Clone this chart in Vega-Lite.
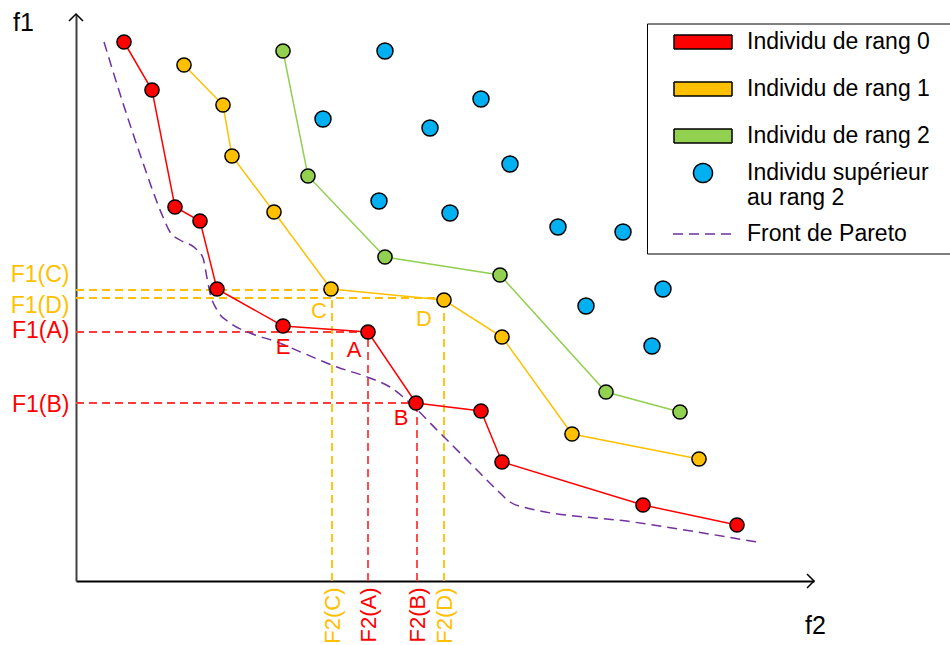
{
  "$schema": "https://vega.github.io/schema/vega-lite/v6.json",
  "width": 738,
  "height": 567,
  "autosize": {"type": "none"},
  "padding": {"left": 76, "top": 14, "right": 136, "bottom": 64},
  "background": "white",
  "config": {
    "font": "Liberation Sans",
    "view": {"stroke": null},
    "legend": {
      "orient": "none", "legendX": 571, "legendY": 9.5,
      "padding": 7, "strokeColor": "#000000", "rowPadding": 12,
      "symbolOffset": 37.5, "labelOffset": 32.5,
      "labelFontSize": 23, "labelColor": "#000000", "labelLimit": 400,
      "symbolSize": 400, "symbolStrokeWidth": 1.5
    }
  },
  "datasets": {
    "individus": [
      {"rang": "Individu de rang 0", "f2": 48, "f1": 539, "nom": ""},
      {"rang": "Individu de rang 0", "f2": 76, "f1": 491, "nom": ""},
      {"rang": "Individu de rang 0", "f2": 99, "f1": 374, "nom": ""},
      {"rang": "Individu de rang 0", "f2": 124, "f1": 360, "nom": ""},
      {"rang": "Individu de rang 0", "f2": 141, "f1": 292, "nom": ""},
      {"rang": "Individu de rang 0", "f2": 207, "f1": 255, "nom": "E"},
      {"rang": "Individu de rang 0", "f2": 292, "f1": 249, "nom": "A"},
      {"rang": "Individu de rang 0", "f2": 340, "f1": 178, "nom": "B"},
      {"rang": "Individu de rang 0", "f2": 405, "f1": 170, "nom": ""},
      {"rang": "Individu de rang 0", "f2": 426, "f1": 119, "nom": ""},
      {"rang": "Individu de rang 0", "f2": 567, "f1": 76, "nom": ""},
      {"rang": "Individu de rang 0", "f2": 661, "f1": 56, "nom": ""},
      {"rang": "Individu de rang 1", "f2": 108, "f1": 516, "nom": ""},
      {"rang": "Individu de rang 1", "f2": 147, "f1": 476, "nom": ""},
      {"rang": "Individu de rang 1", "f2": 156, "f1": 425, "nom": ""},
      {"rang": "Individu de rang 1", "f2": 198, "f1": 369, "nom": ""},
      {"rang": "Individu de rang 1", "f2": 255, "f1": 292, "nom": "C"},
      {"rang": "Individu de rang 1", "f2": 368, "f1": 281, "nom": "D"},
      {"rang": "Individu de rang 1", "f2": 426, "f1": 244, "nom": ""},
      {"rang": "Individu de rang 1", "f2": 496, "f1": 147, "nom": ""},
      {"rang": "Individu de rang 1", "f2": 623, "f1": 122, "nom": ""},
      {"rang": "Individu de rang 2", "f2": 207, "f1": 530, "nom": ""},
      {"rang": "Individu de rang 2", "f2": 232, "f1": 405, "nom": ""},
      {"rang": "Individu de rang 2", "f2": 309, "f1": 324, "nom": ""},
      {"rang": "Individu de rang 2", "f2": 424, "f1": 306, "nom": ""},
      {"rang": "Individu de rang 2", "f2": 530, "f1": 189, "nom": ""},
      {"rang": "Individu de rang 2", "f2": 604, "f1": 169, "nom": ""},
      {"rang": "Individu supérieur au rang 2", "f2": 309, "f1": 530, "nom": ""},
      {"rang": "Individu supérieur au rang 2", "f2": 247, "f1": 462, "nom": ""},
      {"rang": "Individu supérieur au rang 2", "f2": 405, "f1": 482, "nom": ""},
      {"rang": "Individu supérieur au rang 2", "f2": 354, "f1": 453, "nom": ""},
      {"rang": "Individu supérieur au rang 2", "f2": 434, "f1": 417, "nom": ""},
      {"rang": "Individu supérieur au rang 2", "f2": 303, "f1": 380, "nom": ""},
      {"rang": "Individu supérieur au rang 2", "f2": 374, "f1": 368, "nom": ""},
      {"rang": "Individu supérieur au rang 2", "f2": 482, "f1": 354, "nom": ""},
      {"rang": "Individu supérieur au rang 2", "f2": 547, "f1": 349, "nom": ""},
      {"rang": "Individu supérieur au rang 2", "f2": 587, "f1": 292, "nom": ""},
      {"rang": "Individu supérieur au rang 2", "f2": 510, "f1": 275, "nom": ""},
      {"rang": "Individu supérieur au rang 2", "f2": 576, "f1": 235, "nom": ""}
    ],
    "pareto": [
      {"rang": "Front de Pareto", "f2": 28, "f1": 539}, {"rang": "Front de Pareto", "f2": 46, "f1": 481},
      {"rang": "Front de Pareto", "f2": 66, "f1": 421}, {"rang": "Front de Pareto", "f2": 87, "f1": 364},
      {"rang": "Front de Pareto", "f2": 94, "f1": 349}, {"rang": "Front de Pareto", "f2": 104, "f1": 341},
      {"rang": "Front de Pareto", "f2": 119, "f1": 333}, {"rang": "Front de Pareto", "f2": 127, "f1": 323},
      {"rang": "Front de Pareto", "f2": 131, "f1": 303}, {"rang": "Front de Pareto", "f2": 134, "f1": 288},
      {"rang": "Front de Pareto", "f2": 141, "f1": 271}, {"rang": "Front de Pareto", "f2": 154, "f1": 258},
      {"rang": "Front de Pareto", "f2": 174, "f1": 248}, {"rang": "Front de Pareto", "f2": 201, "f1": 239},
      {"rang": "Front de Pareto", "f2": 227, "f1": 228}, {"rang": "Front de Pareto", "f2": 261, "f1": 214},
      {"rang": "Front de Pareto", "f2": 294, "f1": 203}, {"rang": "Front de Pareto", "f2": 314, "f1": 194},
      {"rang": "Front de Pareto", "f2": 334, "f1": 178}, {"rang": "Front de Pareto", "f2": 361, "f1": 151},
      {"rang": "Front de Pareto", "f2": 394, "f1": 118}, {"rang": "Front de Pareto", "f2": 421, "f1": 91},
      {"rang": "Front de Pareto", "f2": 434, "f1": 79}, {"rang": "Front de Pareto", "f2": 451, "f1": 73},
      {"rang": "Front de Pareto", "f2": 557, "f1": 59}, {"rang": "Front de Pareto", "f2": 681, "f1": 39}
    ],
    "reperes": [
      {"point": "C", "f2": 256, "f1": 291},
      {"point": "D", "f2": 368, "f1": 283},
      {"point": "A", "f2": 292, "f1": 249},
      {"point": "B", "f2": 341, "f1": 178}
    ],
    "fleches": [
      {"axe": "f1", "f2": 0, "f1": 567},
      {"axe": "f2", "f2": 738, "f1": 0}
    ]
  },
  "encoding": {
    "x": {
      "field": "f2", "type": "quantitative",
      "scale": {"domain": [0, 738], "nice": false, "zero": false},
      "axis": {
        "values": [256, 292, 341, 368],
        "labelExpr": "datum.value == 256 ? 'F2(C)' : datum.value == 292 ? 'F2(A)' : datum.value == 341 ? 'F2(B)' : 'F2(D)'",
        "labelAngle": 270, "labelAlign": "right", "labelBaseline": "middle",
        "labelPadding": 6, "labelFontSize": 22,
        "labelColor": {"condition": {"test": "datum.value == 256 || datum.value == 368", "value": "#ffc000"}, "value": "#ff0000"},
        "labelOverlap": false, "labelBound": false, "labelFlush": false,
        "ticks": false, "grid": false, "domainColor": "#000000", "domainWidth": 2,
        "title": "f2", "titleX": 739, "titleY": 44, "titleAlign": "center", "titleBaseline": "middle",
        "titleAngle": 0, "titleFontSize": 25, "titleFontWeight": "normal", "titleColor": "#000000"
      }
    },
    "y": {
      "field": "f1", "type": "quantitative",
      "scale": {"domain": [0, 567], "nice": false, "zero": false},
      "axis": {
        "values": [291, 283, 249, 178],
        "labelExpr": "datum.value == 291 ? 'F1(C)' : datum.value == 283 ? 'F1(D)' : datum.value == 249 ? 'F1(A)' : 'F1(B)'",
        "labelAlign": "right", "labelPadding": 7, "labelFontSize": 23, "labelBaseline": "middle",
        "labelOffset": {"condition": [{"test": "datum.value == 291", "value": -15.5}, {"test": "datum.value == 283", "value": 7.5}, {"test": "datum.value == 249", "value": -2}], "value": 1.5},
        "labelColor": {"condition": {"test": "datum.value == 291 || datum.value == 283", "value": "#ffc000"}, "value": "#ff0000"},
        "labelOverlap": false, "labelBound": false, "labelFlush": false,
        "ticks": false, "grid": false, "domainColor": "#404040", "domainWidth": 2,
        "title": "f1", "titleX": -53, "titleY": 8, "titleAlign": "center", "titleBaseline": "middle",
        "titleAngle": 0, "titleFontSize": 25, "titleFontWeight": "normal", "titleColor": "#000000"
      }
    }
  },
  "layer": [
    {
      "data": {"name": "reperes"},
      "mark": {"type": "rule", "strokeDash": [8, 5], "strokeWidth": 1.8},
      "encoding": {
        "x": {
          "datum": 0, "type": "quantitative",
          "scale": {"domain": [0, 738], "nice": false, "zero": false},
          "axis": {
            "values": [256, 292, 341, 368],
            "labelExpr": "datum.value == 256 ? 'F2(C)' : datum.value == 292 ? 'F2(A)' : datum.value == 341 ? 'F2(B)' : 'F2(D)'",
            "labelAngle": 270, "labelAlign": "right", "labelBaseline": "middle",
            "labelPadding": 6, "labelFontSize": 22,
            "labelColor": {"condition": {"test": "datum.value == 256 || datum.value == 368", "value": "#ffc000"}, "value": "#ff0000"},
            "labelOverlap": false, "labelBound": false, "labelFlush": false,
            "ticks": false, "grid": false, "domainColor": "#000000", "domainWidth": 2,
            "title": "f2", "titleX": 739, "titleY": 44, "titleAlign": "center", "titleBaseline": "middle",
            "titleAngle": 0, "titleFontSize": 25, "titleFontWeight": "normal", "titleColor": "#000000"
          }
        },
        "x2": {"field": "f2"},
        "color": {"condition": {"test": "datum.point == 'C' || datum.point == 'D'", "value": "#ffc000"}, "value": "#ff3b3b"}
      }
    },
    {
      "data": {"name": "reperes"},
      "mark": {"type": "rule", "strokeDash": [8, 5], "strokeWidth": 1.8},
      "encoding": {
        "y": {
          "datum": 0, "type": "quantitative",
          "scale": {"domain": [0, 567], "nice": false, "zero": false},
          "axis": {
            "values": [291, 283, 249, 178],
            "labelExpr": "datum.value == 291 ? 'F1(C)' : datum.value == 283 ? 'F1(D)' : datum.value == 249 ? 'F1(A)' : 'F1(B)'",
            "labelAlign": "right", "labelPadding": 7, "labelFontSize": 23, "labelBaseline": "middle",
            "labelOffset": {"condition": [{"test": "datum.value == 291", "value": -15.5}, {"test": "datum.value == 283", "value": 7.5}, {"test": "datum.value == 249", "value": -2}], "value": 1.5},
            "labelColor": {"condition": {"test": "datum.value == 291 || datum.value == 283", "value": "#ffc000"}, "value": "#ff0000"},
            "labelOverlap": false, "labelBound": false, "labelFlush": false,
            "ticks": false, "grid": false, "domainColor": "#404040", "domainWidth": 2,
            "title": "f1", "titleX": -53, "titleY": 8, "titleAlign": "center", "titleBaseline": "middle",
            "titleAngle": 0, "titleFontSize": 25, "titleFontWeight": "normal", "titleColor": "#000000"
          }
        },
        "y2": {"field": "f1"},
        "color": {"condition": {"test": "datum.point == 'C' || datum.point == 'D'", "value": "#ffc000"}, "value": "#ff3b3b"}
      }
    },
    {
      "data": {"name": "pareto"},
      "mark": {"type": "line", "strokeWidth": 1.5, "interpolate": "monotone"},
      "encoding": {
        "stroke": {
          "field": "rang", "type": "nominal",
          "scale": {
            "domain": ["Individu de rang 0", "Individu de rang 1", "Individu de rang 2", "Individu supérieur au rang 2", "Front de Pareto"],
            "range": ["#000000", "#000000", "#000000", "#000000", "#7030a0"]
          },
          "legend": {"title": null, "labelExpr": "datum.label == 'Individu supérieur au rang 2' ? ['Individu supérieur', 'au rang 2'] : datum.label"}
        },
        "strokeDash": {
          "field": "rang", "type": "nominal",
          "scale": {
            "domain": ["Individu de rang 0", "Individu de rang 1", "Individu de rang 2", "Individu supérieur au rang 2", "Front de Pareto"],
            "range": [[1, 0], [1, 0], [1, 0], [1, 0], [10, 6]]
          },
          "legend": {"title": null, "labelExpr": "datum.label == 'Individu supérieur au rang 2' ? ['Individu supérieur', 'au rang 2'] : datum.label"}
        }
      }
    },
    {
      "data": {"name": "individus"},
      "transform": [{"filter": "datum.rang != 'Individu supérieur au rang 2'"}],
      "mark": {"type": "line", "strokeWidth": 1.5},
      "encoding": {
        "detail": {"field": "rang"},
        "color": {"condition": [
          {"test": "datum.rang == 'Individu de rang 0'", "value": "#ff0000"},
          {"test": "datum.rang == 'Individu de rang 1'", "value": "#ffc000"}
        ], "value": "#92d050"}
      }
    },
    {
      "data": {"name": "individus"},
      "transform": [{"filter": "datum.rang != 'Individu supérieur au rang 2'"}],
      "mark": {"type": "point", "filled": true, "size": 200, "stroke": "#000000", "strokeWidth": 1.5, "opacity": 1},
      "encoding": {
        "fill": {
          "field": "rang", "type": "nominal",
          "scale": {
            "domain": ["Individu de rang 0", "Individu de rang 1", "Individu de rang 2", "Individu supérieur au rang 2", "Front de Pareto"],
            "range": ["#ff0000", "#ffc000", "#92d050", "#00b0f0", "transparent"]
          },
          "legend": {"title": null, "labelExpr": "datum.label == 'Individu supérieur au rang 2' ? ['Individu supérieur', 'au rang 2'] : datum.label"}
        }
      }
    },
    {
      "data": {"name": "individus"},
      "transform": [{"filter": "datum.rang == 'Individu supérieur au rang 2'"}],
      "mark": {"type": "point", "filled": true, "size": 284, "stroke": "#000000", "strokeWidth": 1.5, "opacity": 1},
      "encoding": {
        "fill": {
          "field": "rang", "type": "nominal",
          "scale": {
            "domain": ["Individu de rang 0", "Individu de rang 1", "Individu de rang 2", "Individu supérieur au rang 2", "Front de Pareto"],
            "range": ["#ff0000", "#ffc000", "#92d050", "#00b0f0", "transparent"]
          },
          "legend": {"title": null, "labelExpr": "datum.label == 'Individu supérieur au rang 2' ? ['Individu supérieur', 'au rang 2'] : datum.label"}
        },
        "shape": {
          "field": "rang", "type": "nominal",
          "scale": {
            "domain": ["Individu de rang 0", "Individu de rang 1", "Individu de rang 2", "Individu supérieur au rang 2", "Front de Pareto"],
            "range": [
              "M23.8,-1.95M-2.9,-0.7H2.9V0.7H-2.9Z",
              "M23.8,-1.95M-2.9,-0.7H2.9V0.7H-2.9Z",
              "M23.8,-1.95M-2.9,-0.7H2.9V0.7H-2.9Z",
              "M0.95,0A0.95,0.95,0,1,1,-0.95,0A0.95,0.95,0,1,1,0.95,0Z",
              "M-3,0H3"
            ]
          },
          "legend": {"title": null, "labelExpr": "datum.label == 'Individu supérieur au rang 2' ? ['Individu supérieur', 'au rang 2'] : datum.label"}
        }
      }
    },
    {
      "data": {"name": "individus"},
      "transform": [{"filter": "datum.nom == 'A'"}],
      "mark": {"type": "text", "dx": -14, "dy": 18, "fontSize": 22, "color": "#ff0000"},
      "encoding": {"text": {"field": "nom"}}
    },
    {
      "data": {"name": "individus"},
      "transform": [{"filter": "datum.nom == 'B'"}],
      "mark": {"type": "text", "dx": -15, "dy": 15, "fontSize": 22, "color": "#ff0000"},
      "encoding": {"text": {"field": "nom"}}
    },
    {
      "data": {"name": "individus"},
      "transform": [{"filter": "datum.nom == 'C'"}],
      "mark": {"type": "text", "dx": -12, "dy": 22, "fontSize": 22, "color": "#ffc000"},
      "encoding": {"text": {"field": "nom"}}
    },
    {
      "data": {"name": "individus"},
      "transform": [{"filter": "datum.nom == 'D'"}],
      "mark": {"type": "text", "dx": -20, "dy": 19, "fontSize": 22, "color": "#ffc000"},
      "encoding": {"text": {"field": "nom"}}
    },
    {
      "data": {"name": "individus"},
      "transform": [{"filter": "datum.nom == 'E'"}],
      "mark": {"type": "text", "dx": 0, "dy": 21, "fontSize": 22, "color": "#ff0000"},
      "encoding": {"text": {"field": "nom"}}
    },
    {
      "data": {"name": "fleches"},
      "mark": {"type": "point", "filled": false, "size": 196, "stroke": "#000000", "strokeWidth": 1.5, "opacity": 1},
      "encoding": {
        "shape": {"condition": {"test": "datum.axe == 'f1'", "value": "M-1,1L0,0L1,1"}, "value": "M-1,-1L0,0L-1,1"}
      }
    }
  ]
}
